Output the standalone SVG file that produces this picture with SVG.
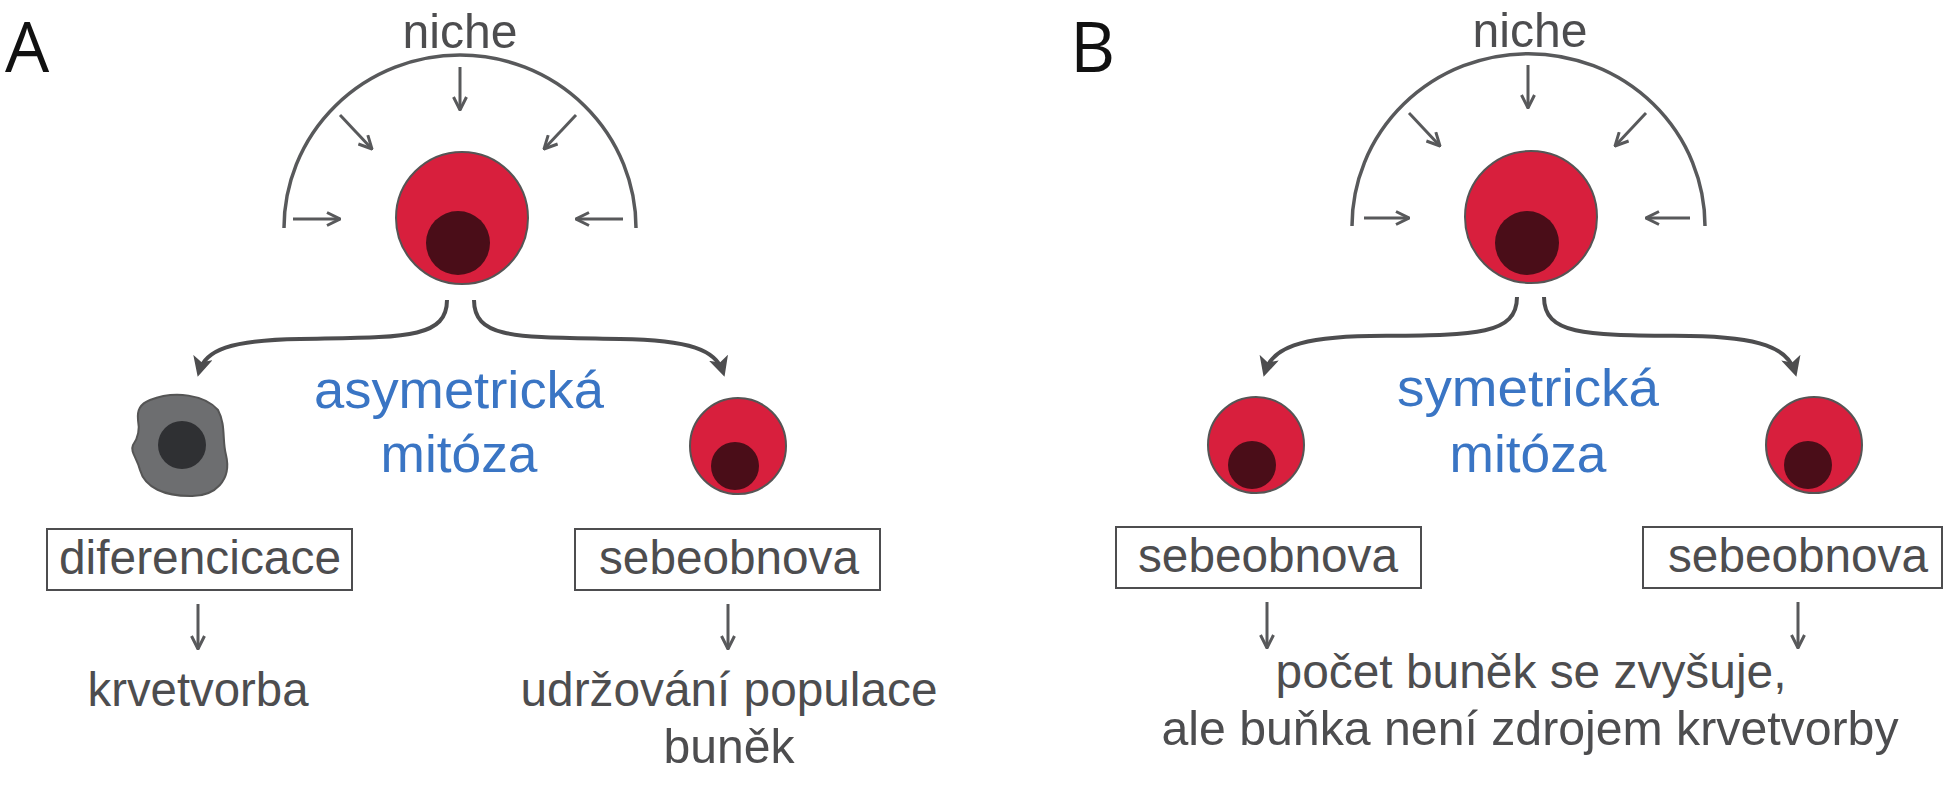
<svg xmlns="http://www.w3.org/2000/svg" width="1945" height="800" viewBox="0 0 1945 800">
<defs>
<marker id="thin" viewBox="0 0 16 16" refX="15" refY="8" markerWidth="16" markerHeight="16" markerUnits="userSpaceOnUse" orient="auto"><path d="M2,1.5 L15,8 L2,14.5" fill="none" stroke="#58595b" stroke-width="3"/></marker>
<marker id="solid" viewBox="0 0 12 12" refX="9" refY="6" markerWidth="20" markerHeight="20" markerUnits="userSpaceOnUse" orient="auto"><path d="M0,0 L12,6 L0,12 L3,6 Z" fill="#4d4d4f"/></marker>
</defs>
<style>
.t{font-family:"Liberation Sans",Arial,sans-serif;fill:#4d4d4f;font-size:48px;text-anchor:middle}
.b{font-family:"Liberation Sans",Arial,sans-serif;fill:#3a75c4;font-size:51px;text-anchor:middle}
.L{font-family:"Open Sans","Liberation Sans",sans-serif;fill:#111;font-size:70px}
.arc{fill:none;stroke:#58595b;stroke-width:3.5}
.ar{fill:none;stroke:#58595b;stroke-width:3;marker-end:url(#thin)}
.cv{fill:none;stroke:#4d4d4f;stroke-width:4;marker-end:url(#solid)}
.box{fill:#fff;stroke:#4d4d4f;stroke-width:2}
.cell{fill:#d81f3d;stroke:#555;stroke-width:2}
.nuc{fill:#4a0d18}
</style>
<text class="L" x="5" y="72">A</text>
<text class="L" x="1070" y="72">B</text>
<g id="nicheA">
<path class="arc" d="M284,228 A175,172 0 0 1 636,228"/>
<text class="t" x="460" y="48" font-size="42" textLength="115" lengthAdjust="spacingAndGlyphs">niche</text>
</g>
<g id="nicheB">
<path class="arc" d="M1352,226 A176,172 0 0 1 1705,226"/>
<text class="t" x="1530" y="47" font-size="42" textLength="115" lengthAdjust="spacingAndGlyphs">niche</text>
</g>
<g id="cellA"><circle class="cell" cx="462" cy="218" r="66"/><circle class="nuc" cx="458" cy="243" r="32"/></g>
<g id="cellB"><circle class="cell" cx="1531" cy="217" r="66"/><circle class="nuc" cx="1527" cy="243" r="32"/></g>
<g id="diffCell"><path d="M150,400 C175,390 205,395 218,410 C226,425 222,440 226,455 C232,480 215,497 190,496 C165,496 145,488 140,470 C137,458 130,452 133,445 C138,438 140,430 138,420 C137,410 140,404 150,400 Z" fill="#6d6e70" stroke="#555" stroke-width="2"/><circle cx="182" cy="445" r="24" fill="#2f3033"/></g>
<g id="selfA"><circle class="cell" cx="738" cy="446" r="48"/><circle class="nuc" cx="735" cy="466" r="24"/></g>
<g id="selfB1"><circle class="cell" cx="1256" cy="445" r="48"/><circle class="nuc" cx="1252" cy="465" r="24"/></g>
<g id="selfB2"><circle class="cell" cx="1814" cy="445" r="48"/><circle class="nuc" cx="1808" cy="465" r="24"/></g>
<g id="labelA"><text class="b" x="459" y="408" textLength="290" lengthAdjust="spacingAndGlyphs">asymetrická</text><text class="b" x="459" y="472" textLength="157" lengthAdjust="spacingAndGlyphs">mitóza</text></g>
<g id="labelB"><text class="b" x="1528" y="406" textLength="262" lengthAdjust="spacingAndGlyphs">symetrická</text><text class="b" x="1528" y="472" textLength="157" lengthAdjust="spacingAndGlyphs">mitóza</text></g>
<g id="boxA1"><rect class="box" x="47" y="529" width="305" height="61"/><text class="t" x="200" y="574" textLength="282" lengthAdjust="spacingAndGlyphs">diferencicace</text></g>
<g id="boxA2"><rect class="box" x="575" y="529" width="305" height="61"/><text class="t" x="729" y="574" textLength="260" lengthAdjust="spacingAndGlyphs">sebeobnova</text></g>
<g id="boxB1"><rect class="box" x="1116" y="527" width="305" height="61"/><text class="t" x="1268" y="572" textLength="260" lengthAdjust="spacingAndGlyphs">sebeobnova</text></g>
<g id="boxB2"><rect class="box" x="1643" y="527" width="299" height="61"/><text class="t" x="1798" y="572" textLength="260" lengthAdjust="spacingAndGlyphs">sebeobnova</text></g>
<g id="outA1"><text class="t" x="198" y="706" textLength="221" lengthAdjust="spacingAndGlyphs">krvetvorba</text></g>
<g id="outA2"><text class="t" x="729" y="706" textLength="417" lengthAdjust="spacingAndGlyphs">udržování populace</text><text class="t" x="729" y="763" textLength="131" lengthAdjust="spacingAndGlyphs">buněk</text></g>
<g id="outB"><text class="t" x="1531" y="688" textLength="511" lengthAdjust="spacingAndGlyphs">počet buněk se zvyšuje,</text><text class="t" x="1530" y="745" textLength="737" lengthAdjust="spacingAndGlyphs">ale buňka není zdrojem krvetvorby</text></g>
<g id="connectors">
<path class="ar" d="M460,67 L460,110"/><path class="ar" d="M340,115 L372,149"/><path class="ar" d="M576,115 L544,149"/><path class="ar" d="M293,219 L340,219"/><path class="ar" d="M623,219 L576,219"/>
<path class="ar" d="M1528,65 L1528,108"/><path class="ar" d="M1409,113 L1440,146"/><path class="ar" d="M1646,113 L1615,146"/><path class="ar" d="M1364,218 L1409,218"/><path class="ar" d="M1690,218 L1646,218"/>
<path class="cv" d="M447,300 C447,340 400,337 300,339 C230,340 205,350 199,372"/>
<path class="cv" d="M474,300 C474,340 520,337 620,339 C690,340 716,350 723,372"/>
<path class="cv" d="M1517,297 C1517,337 1470,335 1370,336 C1300,337 1272,348 1265,372"/>
<path class="cv" d="M1544,297 C1544,337 1590,335 1690,336 C1760,337 1788,348 1795,372"/>
<path class="ar" d="M198,604 L198,649"/><path class="ar" d="M728,604 L728,649"/><path class="ar" d="M1267,602 L1267,648"/><path class="ar" d="M1798,602 L1798,648"/>
</g>
</svg>
